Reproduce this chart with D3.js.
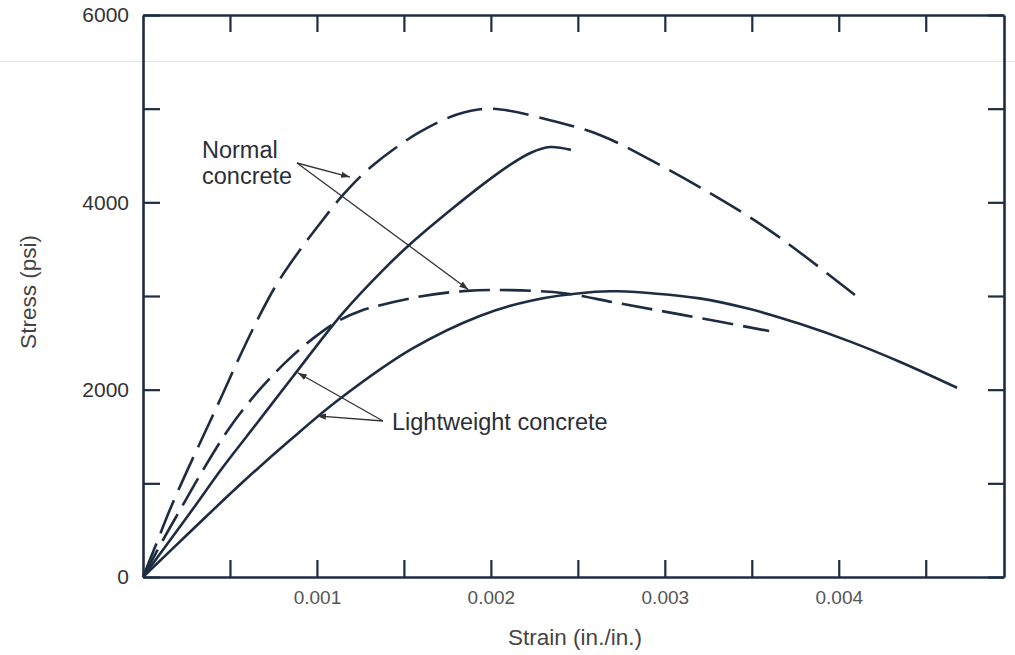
<!DOCTYPE html>
<html>
<head>
<meta charset="utf-8">
<script src="https://cdn.jsdelivr.net/npm/d3@7"></script>
<style>
  body { margin: 0; background: #fff; }
  svg { display: block; font-family: "Liberation Sans", Arial, sans-serif; }
</style>
</head>
<body>
<div id="chart"></div>
<script>
// stress-strain curves (strain in in./in., stress in psi)
const normalHighStrain = [0, 0.00008, 0.000155, 0.00025, 0.000345, 0.00044, 0.00054, 0.00067, 0.00077, 0.00089, 0.00102, 0.00115, 0.00131, 0.00158, 0.00181, 0.002, 0.00234, 0.00263, 0.00292, 0.0032, 0.0036, 0.0041];
const normalHighStress = [0, 370, 720, 1120, 1500, 1880, 2290, 2790, 3130, 3460, 3780, 4080, 4377, 4738, 4940, 5000, 4877, 4717, 4450, 4163, 3704, 3000];

const normalLowStrain = [0, 0.000115, 0.000213, 0.000345, 0.0005, 0.00067, 0.00083, 0.00098, 0.00112, 0.00125, 0.00158, 0.00186, 0.00211, 0.00242, 0.00273, 0.00311, 0.0036];
const normalLowStress = [0, 395, 715, 1142, 1600, 2000, 2310, 2550, 2730, 2840, 2990, 3055, 3063, 3030, 2924, 2796, 2626];

const lightHighStrain = [0, 0.00027, 0.00046, 0.000656, 0.00086, 0.00115, 0.00138, 0.00154, 0.00177, 0.00196, 0.00211, 0.00223, 0.00234, 0.00246];
const lightHighStress = [0, 683, 1174, 1644, 2135, 2820, 3277, 3560, 3920, 4200, 4400, 4530, 4590, 4560];

const lightLowStrain = [0, 0.00027, 0.00056, 0.000846, 0.00113, 0.00155, 0.00194, 0.00223, 0.0026, 0.00273, 0.0032, 0.00349, 0.00378, 0.00407, 0.00436, 0.00468];
const lightLowStress = [0, 480, 990, 1462, 1900, 2440, 2790, 2950, 3045, 3050, 2975, 2860, 2700, 2510, 2290, 2020];

const xTicks = [0.0005, 0.001, 0.0015, 0.002, 0.0025, 0.003, 0.0035, 0.004, 0.0045];
const xLabels = [0.001, 0.002, 0.003, 0.004];
const yTicks = [0, 1000, 2000, 3000, 4000, 5000, 6000];
const yLabels = [0, 2000, 4000, 6000];

const width = 1015, height = 655;
const ink = '#1e2c42';

const svg = d3.select('#chart').append('svg')
  .attr('width', width)
  .attr('height', height);

const x = d3.scaleLinear().domain([0, 0.00495]).range([143, 1004]);
const y = d3.scaleLinear().domain([0, 6000]).range([577, 15]);

// faint scan line across the page
svg.append('line')
  .attr('x1', 0).attr('x2', width)
  .attr('y1', 61.5).attr('y2', 61.5)
  .attr('stroke', '#e4e4e4').attr('stroke-width', 1);

// axes, ticks pointing inward
function styleAxis(g) {
  g.select('.domain').attr('stroke', ink).attr('stroke-width', 2.6);
  g.selectAll('.tick line').attr('stroke', ink).attr('stroke-width', 2.2);
}

svg.append('g')
  .attr('transform', `translate(0,${y(0)})`)
  .call(d3.axisBottom(x).tickValues(xTicks).tickSizeInner(-17).tickSizeOuter(0).tickPadding(14)
    .tickFormat(d => xLabels.some(v => Math.abs(v - d) < 1e-9) ? d3.format('.3f')(d) : ''))
  .call(styleAxis)
  .call(g => g.selectAll('text').attr('font-size', 19).attr('fill', '#555'));

svg.append('g')
  .attr('transform', `translate(0,${y(6000)})`)
  .call(d3.axisTop(x).tickValues(xTicks).tickSizeInner(-17).tickSizeOuter(0).tickFormat(''))
  .call(styleAxis);

svg.append('g')
  .attr('transform', `translate(${x(0)},0)`)
  .call(d3.axisLeft(y).tickValues(yTicks).tickSizeInner(-17).tickSizeOuter(0).tickPadding(14)
    .tickFormat(d => yLabels.includes(d) ? d : ''))
  .call(styleAxis)
  .call(g => g.selectAll('text').attr('font-size', 21).attr('fill', '#333'));

svg.append('g')
  .attr('transform', `translate(${x(0.00495)},0)`)
  .call(d3.axisRight(y).tickValues(yTicks).tickSizeInner(-16).tickSizeOuter(0).tickFormat(''))
  .call(styleAxis);

// axis titles
svg.append('text')
  .attr('x', 575).attr('y', 645)
  .attr('text-anchor', 'middle')
  .attr('font-size', 22.5).attr('fill', '#444')
  .text('Strain (in./in.)');

svg.append('text')
  .attr('transform', 'translate(36,292) rotate(-90)')
  .attr('text-anchor', 'middle')
  .attr('font-size', 22.5).attr('fill', '#444')
  .text('Stress (psi)');

// curves
const line = d3.line()
  .x(d => x(d[0]))
  .y(d => y(d[1]))
  .curve(d3.curveCatmullRom.alpha(0.5));

const series = [
  { strain: normalHighStrain, stress: normalHighStress, dash: '36,11' },
  { strain: normalLowStrain, stress: normalLowStress, dash: '31,10' },
  { strain: lightHighStrain, stress: lightHighStress, dash: null },
  { strain: lightLowStrain, stress: lightLowStress, dash: null }
];

svg.append('g')
  .selectAll('path')
  .data(series)
  .join('path')
  .attr('d', s => line(d3.zip(s.strain, s.stress)))
  .attr('fill', 'none')
  .attr('stroke', ink)
  .attr('stroke-width', 2.6)
  .attr('stroke-dasharray', s => s.dash);

// annotation arrows
svg.append('defs').append('marker')
  .attr('id', 'head')
  .attr('viewBox', '0 0 10 10')
  .attr('refX', 10).attr('refY', 5)
  .attr('markerWidth', 9).attr('markerHeight', 9)
  .attr('markerUnits', 'userSpaceOnUse')
  .attr('orient', 'auto')
  .append('path')
  .attr('d', 'M0,1.5 L10,5 L0,8.5 Z')
  .attr('fill', '#333');

const arrows = [
  // normal concrete label -> dashed curves
  { from: [297, 163], to: [0.00119, 4270] },
  { from: [297, 163], to: [0.00187, 3070] },
  // lightweight label -> solid curves
  { from: [383, 421], to: [0.00089, 2180] },
  { from: [383, 421], to: [0.001, 1720] }
];

svg.append('g')
  .selectAll('line')
  .data(arrows)
  .join('line')
  .attr('x1', d => d.from[0]).attr('y1', d => d.from[1])
  .attr('x2', d => x(d.to[0])).attr('y2', d => y(d.to[1]))
  .attr('stroke', '#333').attr('stroke-width', 1.3)
  .attr('marker-end', 'url(#head)');

const note = svg.append('g').attr('font-size', 23.5).attr('fill', '#2a2f3a');
note.append('text').attr('x', 202).attr('y', 158).text('Normal');
note.append('text').attr('x', 202).attr('y', 184).text('concrete');
note.append('text').attr('x', 392).attr('y', 430).text('Lightweight concrete');
</script>
</body>
</html>
